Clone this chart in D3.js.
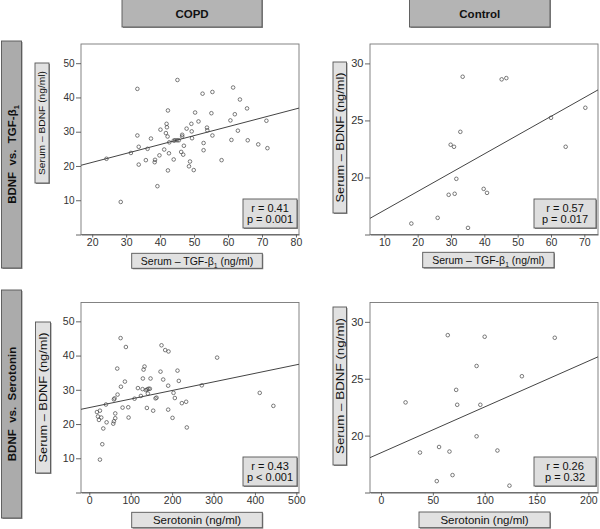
<!DOCTYPE html>
<html lang="en">
<head>
<meta charset="UTF-8">
<title>BDNF correlations</title>
<script src="https://cdnjs.cloudflare.com/ajax/libs/d3/7.8.5/d3.min.js"></script>
<style>
    body { margin: 0; background: #fff; }
    svg { display: block; font-family: "Liberation Sans", Arial, sans-serif; }
</style>
</head>
<body>
<svg width="600" height="529"></svg>
<script>
// ---- data ----
const columns = ["COPD", "Control"];
const rowTitles = [
    [["BDNF  vs.  TGF-β", false], ["1", true]],
    [["BDNF  vs.  Serotonin", false]]
];

// [x, y] pairs: x = TGF-β1 or serotonin (ng/ml), y = serum BDNF (ng/ml)
const copdTgf = [
    [24.2,22.1],[28.4,9.5],[31.4,23.8],[33.3,42.5],[33.3,28.9],[33.7,25.6],[33.7,20.4],[35.8,21.7],
    [36.3,25.0],[37.3,28.0],[38.4,21.1],[38.5,21.8],[39.2,14.1],[39.8,23.1],[40.1,30.6],[41.2,24.8],
    [41.7,29.6],[41.9,32.3],[42.0,31.3],[42.2,28.6],[42.3,36.2],[42.3,18.7],[42.6,23.7],[42.7,26.9],
    [44.0,27.4],[44.0,21.9],[44.4,27.5],[45.0,27.5],[45.1,45.1],[45.5,27.5],[46.2,24.1],[46.5,28.6],
    [46.5,29.1],[46.8,23.3],[47.0,25.9],[47.8,30.9],[48.5,19.9],[48.8,21.3],[49.2,32.3],[49.3,30.1],
    [49.4,28.1],[49.9,18.8],[50.3,35.6],[51.3,33.0],[52.5,41.1],[52.8,26.7],[52.8,24.6],[53.8,31.2],
    [53.9,30.4],[55.1,35.4],[55.4,41.6],[55.4,28.9],[58.1,21.7],[60.7,33.3],[61.0,27.6],[61.5,42.9],
    [62.0,35.1],[62.9,30.3],[63.5,39.4],[65.6,36.8],[65.8,27.5],[68.9,26.3],[71.3,33.2],[71.6,25.2]
];
const controlTgf = [
    [18.1,15.96],[26.0,16.46],[29.3,18.48],[29.9,22.87],[30.9,22.69],[31.1,18.57],[31.6,19.88],
    [32.8,24.0],[33.5,28.83],[35.1,15.58],[39.8,19.0],[40.8,18.65],[45.2,28.6],[46.6,28.71],
    [60.0,25.23],[64.4,22.69],[70.3,26.11]
];
const copdSerotonin = [
    [18.5,23.5],[25.7,23.9],[20.9,22.2],[23.3,21.2],[28.9,21.9],[25.7,9.6],[31.4,14.1],[33.8,18.7],
    [41.8,20.5],[40.2,25.7],[57.9,20.1],[59.5,20.8],[62.7,21.7],[62.7,23.1],[59.5,27.2],[61.1,27.5],
    [68.3,28.6],[67.5,36.2],[75.6,45.1],[76.4,30.9],[80.4,24.8],[86.0,32.4],[88.4,42.5],[94.1,24.9],
    [94.9,21.9],[109.3,27.4],[117.4,30.5],[124.6,28.2],[128.6,30.2],[129.4,33.3],[131.1,35.9],
    [133.4,36.8],[136.7,29.9],[139.1,24.7],[139.9,30.1],[141.5,28.9],[143.1,30.3],[146.3,30.3],
    [147.9,33.3],[154.3,23.9],[160.0,27.5],[162.4,27.7],[172.0,35.3],[174.4,43.0],[178.5,33.0],
    [183.3,41.6],[190.5,31.2],[191.3,41.2],[190.5,24.2],[201.0,21.8],[203.4,29.1],[206.6,27.6],
    [213.0,35.6],[216.2,32.6],[223.5,26.1],[233.9,26.5],[235.5,19.0],[271.7,31.3],[308.7,39.4],
    [411.6,29.1],[444.5,25.3]
];
const controlSerotonin = [
    [23.7,22.92],[37.6,18.51],[53.8,16.0],[56.0,19.0],[64.4,28.83],[66.05,18.6],[69.0,16.53],
    [72.5,24.02],[73.5,22.71],[92.2,26.12],[92.2,19.94],[95.8,22.71],[100.0,28.69],[112.3,18.69],
    [123.9,15.6],[135.9,25.22],[167.6,28.6]
];

// fitted lines [intercept, slope]
const fits = [[15.86, 0.26], [15.48, 0.1646], [24.8, 0.025], [18.49, 0.0403]];
const rValues = ["r = 0.41", "r = 0.57", "r = 0.43", "r = 0.26"];
const pValues = ["p = 0.001", "p = 0.017", "p < 0.001", "p = 0.32"];

const tgfCopdTicks = [20, 30, 40, 50, 60, 70, 80];
const tgfControlTicks = [10, 20, 30, 40, 50, 60, 70];
const serCopdTicks = [0, 100, 200, 300, 400, 500];
const serControlTicks = [0, 50, 100, 150, 200];
const bdnfCopdTicks = [0, 10, 20, 30, 40, 50];
const bdnfControlTicks = [15, 20, 25, 30];

const yLabel = "Serum – BDNF (ng/ml)";
const tgfLabel = [["Serum – TGF-β", false], ["1", true], [" (ng/ml)", false]];
const serLabel = [["Serotonin (ng/ml)", false]];

// ---- layout ----
const colX = [[81, 299], [370, 598]];
const rowY = [[44, 234.5], [302.5, 492.5]];

const panels = [
    { row: 0, col: 0, pts: copdTgf, xDom: [16.7, 80.9], yDom: [0, 55.6], xt: tgfCopdTicks, yt: bdnfCopdTicks,
      xl: tgfLabel, xlBox: [131.7, 253.3, 130.6, 15], xlSize: 10.5,
      ylBox: [35, 63, 14, 120], ylSize: 9.5, ylLen: 104, tickSize: 10, statW: 54 },
    { row: 0, col: 1, pts: controlTgf, xDom: [5.7, 74.1], yDom: [15, 31.7], xt: tgfControlTicks, yt: bdnfControlTicks,
      xl: tgfLabel, xlBox: [422.7, 252.3, 131.3, 15.4], xlSize: 10.5,
      ylBox: [333, 62, 13.5, 151], ylSize: 10.5, ylLen: 130, tickSize: 11, statW: 62 },
    { row: 1, col: 0, pts: copdSerotonin, xDom: [-20, 506.4], yDom: [0, 55.5], xt: serCopdTicks, yt: bdnfCopdTicks,
      xl: serLabel, xlBox: [131.7, 512.3, 130.6, 15.4], xlSize: 11.5,
      ylBox: [35.5, 322, 15, 151], ylSize: 11, ylLen: 130, tickSize: 10.5, statW: 54 },
    { row: 1, col: 1, pts: controlSerotonin, xDom: [-10.6, 209.3], yDom: [15, 31.7], xt: serControlTicks, yt: bdnfControlTicks,
      xl: serLabel, xlBox: [419, 512, 131, 15.7], xlSize: 11.5,
      ylBox: [333, 307, 13.5, 158], ylSize: 10.5, ylLen: 136, tickSize: 11, statW: 62 }
];

const svg = d3.select("svg");
const ink = "#333";

function box(x, y, w, h, fill) {
    svg.append("rect").attr("x", x + 1).attr("y", y + 1).attr("width", w).attr("height", h)
        .attr("fill", "#8c8c8c");
    svg.append("rect").attr("x", x).attr("y", y).attr("width", w).attr("height", h)
        .attr("fill", fill).attr("stroke", "#555").attr("stroke-width", 0.9);
}

// writes text segments, lowering the ones marked as subscript
function rich(textSel, segs, size) {
    let low = false;
    segs.forEach(([s, sub]) => {
        const t = textSel.append("tspan").text(s).attr("font-size", sub ? size * 0.65 : size);
        if (sub && !low) t.attr("dy", size * 0.28);
        if (!sub && low) t.attr("dy", -size * 0.28);
        low = sub;
    });
}

// column headers
const headBoxes = [[122, -1, 140, 28], [409.5, -1, 140.5, 28]];
columns.forEach((c, i) => {
    const [x, y, w, h] = headBoxes[i];
    box(x, y, w, h, "#b4b4b4");
    svg.append("text").attr("x", x + w / 2).attr("y", y + h / 2 + 5)
        .attr("text-anchor", "middle").attr("font-weight", "bold").attr("font-size", 11.5)
        .attr("fill", "#111").text(c);
});

// row headers
const rowBoxes = [[1.5, 41, 20, 227], [1.5, 290, 20, 228]];
rowTitles.forEach((segs, i) => {
    const [x, y, w, h] = rowBoxes[i];
    box(x, y, w, h, "#ababab");
    const t = svg.append("text")
        .attr("transform", `translate(${x + w / 2 + 4.5},${y + h / 2}) rotate(-90)`)
        .attr("text-anchor", "middle").attr("font-weight", "bold").attr("fill", "#111")
        .style("white-space", "pre");
    rich(t, segs, 11.5);
});

panels.forEach((p, i) => {
    const [x0, x1] = colX[p.col];
    const [y0, y1] = rowY[p.row];
    const x = d3.scaleLinear().domain(p.xDom).range([x0, x1]);
    const y = d3.scaleLinear().domain(p.yDom).range([y1, y0]);
    const g = svg.append("g");

    // frame
    g.append("rect").attr("x", x0).attr("y", y0).attr("width", x1 - x0).attr("height", y1 - y0)
        .attr("fill", "none").attr("stroke", "#777").attr("stroke-width", 0.9);

    const xa = g.append("g").attr("transform", `translate(0,${y1})`)
        .call(d3.axisBottom(x).tickValues(p.xt).tickSize(3).tickPadding(1.5).tickSizeOuter(0));
    const ya = g.append("g").attr("transform", `translate(${x0},0)`)
        .call(d3.axisLeft(y).tickValues(p.yt).tickSize(5).tickPadding(1.5).tickSizeOuter(0)
            .tickFormat(v => v === p.yt[0] ? "" : v));
    [xa, ya].forEach(a => {
        a.select(".domain").attr("stroke", "#555").attr("stroke-width", 0.9);
        a.selectAll(".tick line").attr("stroke", "#555").attr("stroke-width", 0.9);
        a.selectAll(".tick text").attr("fill", ink).attr("font-size", p.tickSize)
            .attr("font-family", "Liberation Sans, Arial, sans-serif");
    });
    xa.selectAll(".tick text").attr("font-size", 10.5);
    ya.select(".domain").remove();

    // fitted line
    const clipId = "clip" + i;
    g.append("clipPath").attr("id", clipId).append("rect")
        .attr("x", x0).attr("y", y0).attr("width", x1 - x0).attr("height", y1 - y0);
    const [a, b] = fits[i];
    g.append("line").attr("clip-path", `url(#${clipId})`)
        .attr("x1", x(p.xDom[0])).attr("y1", y(a + b * p.xDom[0]))
        .attr("x2", x(p.xDom[1])).attr("y2", y(a + b * p.xDom[1]))
        .attr("stroke", "#444").attr("stroke-width", 1);

    // points
    g.selectAll("circle").data(p.pts).join("circle")
        .attr("cx", d => x(d[0])).attr("cy", d => y(d[1])).attr("r", 1.8)
        .attr("fill", "none").attr("stroke", "#444").attr("stroke-width", 0.7);

    // stats box
    const sw = p.statW, sh = 29;
    const sx = x1 - 2 - sw, sy = y1 - 6.5 - sh;
    box(sx, sy, sw, sh, "#dedede");
    [rValues[i], pValues[i]].forEach((s, k) => {
        svg.append("text").attr("x", sx + sw / 2).attr("y", sy + 12.5 + k * 11.5)
            .attr("text-anchor", "middle").attr("font-size", 11).attr("fill", "#111").text(s);
    });

    // x label box
    const [bx, by, bw, bh] = p.xlBox;
    box(bx, by, bw, bh, "#e1e1e1");
    const xt = svg.append("text").attr("x", bx + bw / 2).attr("y", by + bh / 2 + p.xlSize * 0.36)
        .attr("text-anchor", "middle").attr("fill", "#111");
    rich(xt, p.xl, p.xlSize);

    // y label box
    const [lx, ly, lw, lh] = p.ylBox;
    box(lx, ly, lw, lh, "#e1e1e1");
    svg.append("text")
        .attr("transform", `translate(${lx + lw / 2 + p.ylSize * 0.36},${ly + lh / 2}) rotate(-90)`)
        .attr("text-anchor", "middle").attr("font-size", p.ylSize).attr("fill", "#111")
        .attr("textLength", p.ylLen).attr("lengthAdjust", "spacingAndGlyphs")
        .text(yLabel);
});
</script>
</body>
</html>
